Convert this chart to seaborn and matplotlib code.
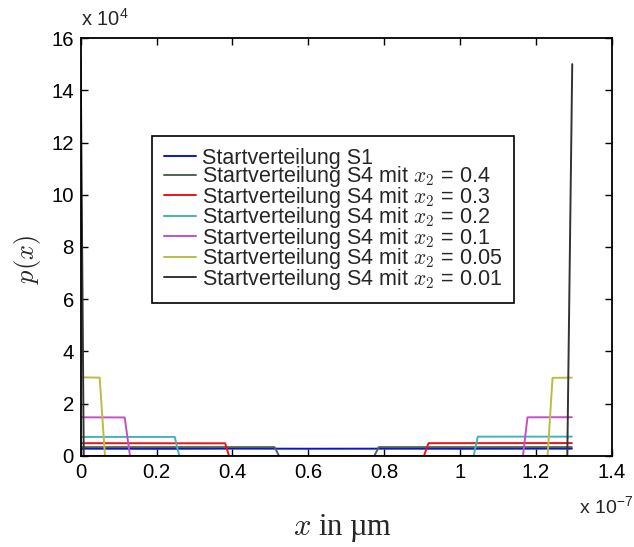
import matplotlib
matplotlib.use("Agg")
import matplotlib.pyplot as plt
import seaborn as sns
import pandas as pd

# ---- data (x in units of 1e-7, p in absolute units) ----
labels = [
    "Startverteilung S1",
    "Startverteilung S4 mit $x_2$ = 0.4",
    "Startverteilung S4 mit $x_2$ = 0.3",
    "Startverteilung S4 mit $x_2$ = 0.2",
    "Startverteilung S4 mit $x_2$ = 0.1",
    "Startverteilung S4 mit $x_2$ = 0.05",
    "Startverteilung S4 mit $x_2$ = 0.01",
]
colors = ["#0a14d8", "#4d664d", "#ee1414", "#44b4b4", "#c052c8", "#bcbc44", "#333333"]

x_s1 = [0.0, 0.2, 0.4, 0.6, 0.8, 1.0, 1.2, 1.295]
y_s1 = [2800, 2750, 2820, 2780, 2800, 2770, 2810, 2800]

x_04 = [0.0, 0.511, 0.523, 0.774, 0.786, 1.295]
y_04 = [3400, 3400, 0, 0, 3400, 3400]

x_03 = [0.0, 0.381, 0.391, 0.905, 0.917, 1.295]
y_03 = [4900, 4850, 0, 0, 4900, 4950]

x_02 = [0.0, 0.248, 0.260, 1.036, 1.047, 1.295]
y_02 = [7300, 7300, 0, 0, 7400, 7400]

x_01 = [0.0, 0.116, 0.130, 1.166, 1.178, 1.295]
y_01 = [14800, 14750, 0, 0, 14800, 14850]

x_005 = [0.0, 0.050, 0.064, 1.231, 1.244, 1.295]
y_005 = [30100, 30000, 0, 0, 29900, 30000]

x_001 = [0.0, 0.008, 1.283, 1.296]
y_001 = [151000, 0, 0, 150000]

xs = [x_s1, x_04, x_03, x_02, x_01, x_005, x_001]
ys = [y_s1, y_04, y_03, y_02, y_01, y_005, y_001]

frames = []
for lab, xv, yv in zip(labels, xs, ys):
    frames.append(pd.DataFrame({"x": xv, "p": yv, "series": lab}))
df = pd.concat(frames, ignore_index=True)

sns.set_style("ticks")
plt.rcParams["font.family"] = ["Liberation Sans", "DejaVu Sans"]
plt.rcParams["mathtext.fontset"] = "cm"

fig = plt.figure(figsize=(6.34, 5.47), dpi=100)
ax = fig.add_axes([0.1273, 0.1664, 0.8375, 0.7641])

sns.lineplot(data=df, x="x", y="p", hue="series", hue_order=labels,
             palette=colors, sort=False, estimator=None, units="series",
             linewidth=1.4, ax=ax, legend=True)

ax.set_xlim(0, 1.4)
ax.set_ylim(0, 160000)
xt = [0, 0.2, 0.4, 0.6, 0.8, 1.0, 1.2, 1.4]
ax.set_xticks(xt)
ax.set_xticklabels(["0", "0.2", "0.4", "0.6", "0.8", "1", "1.2", "1.4"])
yt = list(range(0, 160001, 20000))
ax.set_yticks(yt)
ax.set_yticklabels([str(v // 10000) for v in yt])

for s in ax.spines.values():
    s.set_visible(True)
    s.set_linewidth(1.3)
    s.set_color("black")
ax.tick_params(direction="in", length=5, width=1, top=True, right=True,
               labelsize=14.7, pad=5, colors="black")

ax.set_xlabel("")
ax.set_ylabel("")
fig.text(0.043, 0.525, "$p(x)$", rotation=90, ha="center", va="center", fontsize=19)
fig.text(0.541, 0.034, "$x$ in µm", ha="center", va="center", fontsize=22,
         family=["Liberation Serif", "DejaVu Serif"])
fig.text(0.127, 0.945, r"x 10$\mathregular{^{4}}$", ha="left", va="bottom", fontsize=14.5)
fig.text(0.913, 0.075, r"x 10$\mathregular{^{-7}}$", ha="left", va="center", fontsize=14)

handles, labs = ax.get_legend_handles_labels()
leg = ax.legend(handles, labs, loc="upper left", bbox_to_anchor=(0.134, 0.766),
                borderaxespad=0, fontsize=15.5, frameon=True, fancybox=False,
                edgecolor="black", framealpha=1, handlelength=1.5,
                handletextpad=0.3, labelspacing=-0.21, borderpad=0.55)
leg.get_frame().set_linewidth(1.2)

fig.savefig("out.png", dpi=100)
